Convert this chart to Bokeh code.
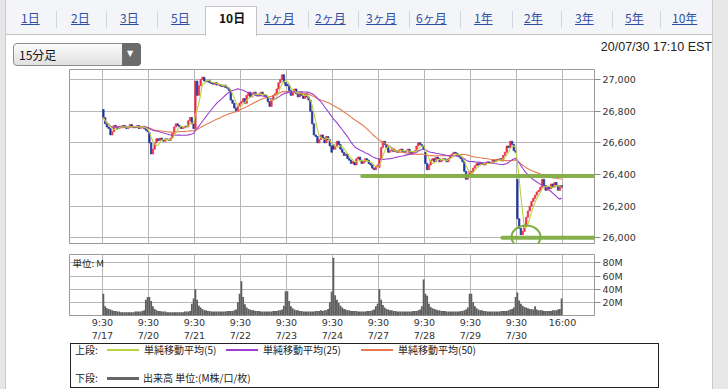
import numpy as np
import pandas as pd
from bokeh.plotting import figure
from bokeh.layouts import column
from bokeh.models import Range1d, FixedTicker, NumeralTickFormatter, Label, Grid, LinearAxis, Div
from bokeh.embed import file_html
from bokeh.resources import INLINE

# ---------------- data (15-minute bars, 26 per session) ----------------
days = ["7/17", "7/20", "7/21", "7/22", "7/23", "7/24", "7/27", "7/28", "7/29", "7/30"]
bars_per_day = 26
day_open = [26810, 26665, 26690, 26850, 26970, 26590, 26445, 26540, 26400, 26370]

close_0717 = [26760, 26720, 26700, 26690, 26650, 26670, 26710, 26700, 26690, 26705, 26695, 26710, 26700,
              26690, 26700, 26715, 26705, 26695, 26700, 26710, 26690, 26700, 26705, 26690, 26680, 26670]
close_0720 = [26600, 26530, 26560, 26600, 26625, 26615, 26630, 26620, 26610, 26625, 26620, 26615, 26630,
              26660, 26700, 26720, 26710, 26700, 26690, 26695, 26705, 26700, 26740, 26760, 26720, 26690]
close_0721 = [26990, 26900, 26960, 27000, 27015, 26990, 26985, 26995, 26980, 26975, 26970, 26980, 26965,
              26970, 26960, 26955, 26965, 26950, 26945, 26930, 26870, 26850, 26820, 26800, 26830, 26850]
close_0722 = [26860, 26880, 26850, 26900, 26920, 26890, 26910, 26920, 26900, 26895, 26910, 26920, 26905,
              26900, 26890, 26860, 26830, 26870, 26900, 26910, 26940, 26980, 27000, 27030, 26980, 26960]
close_0723 = [26960, 26930, 26900, 26920, 26940, 26910, 26890, 26920, 26900, 26880, 26910, 26890, 26870,
              26800, 26720, 26650, 26640, 26600, 26620, 26650, 26630, 26600, 26640, 26620, 26580, 26540]
close_0724 = [26560, 26580, 26610, 26590, 26560, 26540, 26520, 26530, 26500, 26490, 26470, 26480, 26460,
              26500, 26510, 26490, 26470, 26480, 26500, 26490, 26470, 26460, 26440, 26430, 26450, 26460]
close_0727 = [26500, 26570, 26610, 26590, 26570, 26540, 26550, 26560, 26545, 26550, 26540, 26555, 26560,
              26545, 26540, 26550, 26560, 26540, 26530, 26545, 26550, 26580, 26600, 26590, 26580, 26560]
close_0728 = [26470, 26430, 26460, 26490, 26500, 26480, 26510, 26500, 26480, 26490, 26500, 26495, 26480,
              26500, 26520, 26530, 26540, 26535, 26520, 26510, 26500, 26480, 26420, 26370, 26400, 26420]
close_0729 = [26420, 26440, 26455, 26470, 26460, 26475, 26465, 26460, 26470, 26480, 26470, 26475, 26490,
              26480, 26495, 26490, 26500, 26485, 26520, 26540, 26580, 26570, 26610, 26590, 26550, 26540]
close_0730 = [26120, 26060, 26020, 26040, 26080, 26130, 26170, 26200, 26230, 26250, 26270, 26290, 26300,
              26320, 26370, 26330, 26300, 26320, 26310, 26340, 26320, 26350, 26330, 26300, 26330, 26320]

vol_0717 = [33, 14, 11, 10, 9, 8, 7, 7, 6, 6, 5, 5, 5, 5, 5, 5, 5, 5, 6, 6, 6, 6, 7, 8, 24, 28]
vol_0720 = [28, 22, 14, 10, 8, 7, 7, 6, 6, 6, 5, 5, 5, 5, 5, 5, 5, 5, 5, 5, 6, 6, 6, 7, 18, 26]
vol_0721 = [40, 24, 15, 12, 10, 8, 8, 7, 7, 6, 6, 6, 6, 6, 6, 6, 6, 6, 7, 7, 7, 7, 8, 9, 20, 33]
vol_0722 = [52, 28, 17, 12, 10, 9, 8, 8, 7, 7, 7, 6, 6, 6, 6, 6, 6, 6, 7, 7, 7, 8, 8, 9, 15, 37]
vol_0723 = [37, 22, 14, 11, 9, 8, 8, 7, 7, 6, 6, 6, 6, 6, 6, 6, 7, 7, 7, 8, 7, 8, 8, 10, 20, 36]
vol_0724 = [88, 31, 24, 19, 15, 12, 10, 9, 8, 8, 7, 7, 7, 7, 6, 6, 6, 6, 6, 7, 7, 7, 8, 9, 14, 18]
vol_0727 = [40, 24, 16, 12, 10, 9, 8, 8, 7, 7, 6, 6, 6, 6, 6, 6, 6, 6, 6, 7, 7, 7, 8, 9, 14, 55]
vol_0728 = [33, 30, 18, 13, 11, 10, 9, 8, 8, 7, 7, 7, 6, 6, 6, 6, 6, 6, 6, 6, 7, 7, 8, 9, 12, 33]
vol_0729 = [33, 20, 14, 11, 9, 8, 8, 7, 7, 6, 6, 6, 6, 6, 6, 6, 6, 7, 7, 7, 7, 8, 9, 10, 12, 28]
vol_0730 = [35, 23, 18, 15, 13, 12, 11, 10, 10, 9, 14, 9, 8, 8, 8, 7, 7, 7, 7, 7, 8, 8, 8, 9, 10, 26]

price_ticks = [26000, 26200, 26400, 26600, 26800, 27000]
volume_ticks = [20, 40, 60, 80]
volume_tick_labels = ["20M", "40M", "60M", "80M"]
session_open_label = "9:30"
session_close_label = "16:00"
ma_periods = [5, 25, 50]
ma_names = ["単純移動平均(5)", "単純移動平均(25)", "単純移動平均(50)"]

# hand-drawn green support marks (price level, first bar index)
support_levels = [26390, 26000]
support_from_bar = [146.8, 226.0]
circle_bar, circle_price = 239.4, 26005

tabs = ["1日", "2日", "3日", "5日", "10日", "1ヶ月", "2ヶ月", "3ヶ月", "6ヶ月", "1年", "2年", "3年", "5年", "10年"]
selected_tab = "10日"
interval_label = "15分足"
timestamp = "20/07/30 17:10 EST"

# ---------------- derived series ----------------
closes = np.array(close_0717 + close_0720 + close_0721 + close_0722 + close_0723 +
                  close_0724 + close_0727 + close_0728 + close_0729 + close_0730, dtype=float)
volumes = np.array(vol_0717 + vol_0720 + vol_0721 + vol_0722 + vol_0723 +
                   vol_0724 + vol_0727 + vol_0728 + vol_0729 + vol_0730, dtype=float)
n = len(closes)
opens = np.empty(n)
opens[1:] = closes[:-1]
for k, o in enumerate(day_open):
    opens[k * bars_per_day] = o
idx = np.arange(n) + 0.5
up = closes >= opens
UP_C, DN_C = "#e8334a", "#22339c"
cols = [UP_C if u else DN_C for u in up]
s = pd.Series(closes)
mas = [s.rolling(p, min_periods=1).mean().values for p in ma_periods]
MA_COLORS = ["#bcd23c", "#9a3fcf", "#e47a4e"]

day_ticks = [k * bars_per_day for k in range(len(days) + 1)]
time_labels = {t: session_open_label for t in day_ticks[:-1]}
time_labels[day_ticks[-1]] = session_close_label
date_labels = {t: d for t, d in zip(day_ticks[:-1], days)}

# ---------------- layout constants (pixels) ----------------
W = 728
FL, FR = 69, 594            # frame left / right
PX_BAR = 46.0 / bars_per_day
X0 = -(102 - FL) / PX_BAR
X1 = (FR - 102) / PX_BAR
K = 158.3 / 1000.0          # px per price unit
GRID_C = "#b7b7b7"
AXF = "DejaVu Sans"
JPF = "'Noto Sans CJK JP'"

# ---------------- header (tabs etc.) as HTML ----------------
tab_left = [21, 71, 120, 171, 219, 264, 315, 366, 416, 474, 524, 575, 625, 672]
seps = [56, 106, 157, 308, 358, 409, 460, 512, 561, 612, 660]
parts = ['<div style="position:relative;width:728px;height:68px;overflow:hidden;font-family:%s;">' % JPF,
         '<div style="position:absolute;left:6px;top:0px;width:706px;height:35px;background:#f4f5f8;'
         'border-bottom:1px solid #c4c4c4;box-sizing:border-box;"></div>',
         '<div style="position:absolute;left:205px;top:6px;width:52px;height:30px;background:#ffffff;'
         'border:1px solid #c4c4c4;border-bottom:none;box-sizing:border-box;"></div>']
for sx in seps:
    parts.append('<div style="position:absolute;left:%dpx;top:11px;width:1px;height:17px;background:#d3d6dd;"></div>' % sx)
for t, lx in zip(tabs, tab_left):
    if t == selected_tab:
        st = "color:#111111;font-weight:bold;"
    else:
        st = "color:#2f4fa5;text-decoration:underline;"
    parts.append('<span style="position:absolute;left:%dpx;top:11px;font-size:12px;line-height:14px;'
                 'white-space:nowrap;%s">%s</span>' % (lx, st, t))
parts.append('<div style="position:absolute;left:13px;top:43px;width:128px;height:23px;box-sizing:border-box;'
             'border:1px solid #8c8c8c;border-radius:4px;background:linear-gradient(#fbfbfb,#e0e0e0);"></div>')
parts.append('<div style="position:absolute;left:122px;top:43px;width:19px;height:23px;box-sizing:border-box;'
             'border-radius:0 4px 4px 0;background:#6b6b6b;"></div>')
parts.append('<span style="position:absolute;left:127px;top:48px;font-size:8px;line-height:12px;color:#ffffff;'
             'font-family:\'DejaVu Sans\';">&#9660;</span>')
parts.append('<span style="position:absolute;left:19px;top:47px;font-size:12px;line-height:16px;color:#111111;'
             'white-space:nowrap;">%s</span>' % interval_label)
parts.append('<span style="position:absolute;right:16px;top:39px;font-size:12.5px;line-height:16px;color:#222222;'
             'white-space:nowrap;font-family:\'Liberation Sans\';">%s</span>' % timestamp)
parts.append('</div>')
header = Div(text="".join(parts), width=W, height=68, margin=0)

# ---------------- price panel ----------------
pB = figure(width=W, height=185, x_range=Range1d(X0, X1),
            y_range=Range1d(26000 - (243 - 237.3) / K, 27000 + (79 - 69) / K),
            output_backend="svg", toolbar_location=None, x_axis_location=None, y_axis_location="right",
            min_border_left=FL, min_border_right=W - FR, min_border_top=1, min_border_bottom=10,
            background_fill_color="white", border_fill_color=None, outline_line_color="#9a9a9a", margin=0)
pB.vbar(x=idx, width=0.85, top=np.maximum(opens, closes), bottom=np.minimum(opens, closes),
        fill_color=cols, line_color=cols, line_width=0.7)
for m, c in zip(mas[::-1], MA_COLORS[::-1]):
    pB.line(idx, m, line_color=c, line_width=1.1)
GREEN = "#80ad43"
pB.segment(x0=support_from_bar, x1=[X1 + 2] * 2, y0=support_levels, y1=support_levels,
           line_color=GREEN, line_width=4, line_cap="round", line_alpha=0.95)
pB.ellipse(x=[circle_bar], y=[circle_price], width=29, height=23, width_units="screen",
           height_units="screen", fill_color=None, line_color=GREEN, line_width=2)


def style_right_axis(ax, ticks):
    ax.ticker = FixedTicker(ticks=ticks)
    ax.axis_line_color = None
    ax.major_tick_in = 0
    ax.major_tick_out = 6
    ax.minor_tick_line_color = None
    ax.major_tick_line_color = "#8a8a8a"
    ax.major_label_text_font = AXF
    ax.major_label_text_font_size = "9.5px"
    ax.major_label_text_color = "#333333"
    ax.major_label_standoff = 2


def set_vgrid(p):
    if len(p.xgrid) == 0:
        p.add_layout(Grid(dimension=0, ticker=FixedTicker(ticks=day_ticks)))
    else:
        p.xgrid.ticker = FixedTicker(ticks=day_ticks)


style_right_axis(pB.yaxis[0], price_ticks)
pB.yaxis[0].formatter = NumeralTickFormatter(format="0,0")
pB.ygrid.ticker = FixedTicker(ticks=price_ticks)
set_vgrid(pB)
pB.grid.grid_line_color = GRID_C

# ---------------- volume panel ----------------
VK = 0.675  # px per M
pC = figure(width=W, height=90, x_range=Range1d(X0, X1), y_range=Range1d(0, 80 + (262.7 - 254) / VK),
            output_backend="svg", toolbar_location=None, x_axis_location=None, y_axis_location="right",
            min_border_left=FL, min_border_right=W - FR, min_border_top=1, min_border_bottom=26,
            background_fill_color="white", border_fill_color=None, outline_line_color="#9a9a9a", margin=0)
pC.vbar(x=idx, width=1.02, top=volumes, bottom=0, fill_color="#5e5e5e", line_color=None)
style_right_axis(pC.yaxis[0], volume_ticks)
pC.yaxis[0].major_label_overrides = {t: l for t, l in zip(volume_ticks, volume_tick_labels)}
for ticks, labels, standoff in [(day_ticks, time_labels, 1), (day_ticks[:-1], date_labels, -1)]:
    xa = LinearAxis(ticker=FixedTicker(ticks=ticks), major_label_overrides=labels)
    xa.axis_line_color = None
    xa.major_tick_line_color = None
    xa.minor_tick_line_color = None
    xa.major_tick_in = 0
    xa.major_tick_out = 0
    xa.minor_tick_in = 0
    xa.minor_tick_out = 0
    xa.major_label_standoff = standoff
    xa.major_label_text_font = AXF
    xa.major_label_text_font_size = "9.5px"
    xa.major_label_text_color = "#333333"
    pC.add_layout(xa, "below")
pC.ygrid.ticker = FixedTicker(ticks=volume_ticks)
set_vgrid(pC)
pC.grid.grid_line_color = GRID_C
pC.add_layout(Label(x=X0, y=pC.y_range.end, x_offset=3, y_offset=-1, text="単位: M",
                    text_baseline="top", text_font="Noto Sans CJK JP", text_font_size="9.5px",
                    text_color="#222222"))

# ---------------- legend box as HTML ----------------
leg_x0 = [107, 226, 361]
lp = ['<div style="position:relative;width:728px;height:46px;overflow:hidden;font-family:%s;'
      'font-size:10px;color:#222222;">' % JPF,
      '<div style="position:absolute;left:70px;top:0px;width:589px;height:45px;box-sizing:border-box;'
      'border:1px solid #222222;"></div>',
      '<span style="position:absolute;left:75px;top:1px;line-height:12px;white-space:nowrap;">上段:</span>',
      '<span style="position:absolute;left:75px;top:29px;line-height:12px;white-space:nowrap;">下段:</span>']
for x0, c, nm in zip(leg_x0, MA_COLORS, ma_names):
    lp.append('<div style="position:absolute;left:%dpx;top:6px;width:32px;height:1.5px;background:%s;"></div>' % (x0, c))
    lp.append('<span style="position:absolute;left:%dpx;top:1px;line-height:12px;white-space:nowrap;">%s</span>'
              % (x0 + 37, nm))
lp.append('<div style="position:absolute;left:107px;top:34px;width:32px;height:3px;background:#666666;"></div>')
lp.append('<span style="position:absolute;left:143px;top:29px;line-height:12px;white-space:nowrap;">'
          '出来高 単位:(M株/口/枚)</span>')
lp.append('</div>')
legend = Div(text="".join(lp), width=W, height=46, margin=0)

bg = ("linear-gradient(to right, #e6e6e6 0px, #e6e6e6 5px, #c9c9c9 5px, #c9c9c9 6px, "
      "#ffffff 6px, #ffffff 712px, #c9c9c9 712px, #c9c9c9 713px, #e8e8e8 713px, #e8e8e8 728px)")
p = column(header, pB, pC, legend, width=W, height=389, spacing=0, margin=0,
           styles={"background": bg})

open("out.html", "w").write(file_html(p, INLINE))
